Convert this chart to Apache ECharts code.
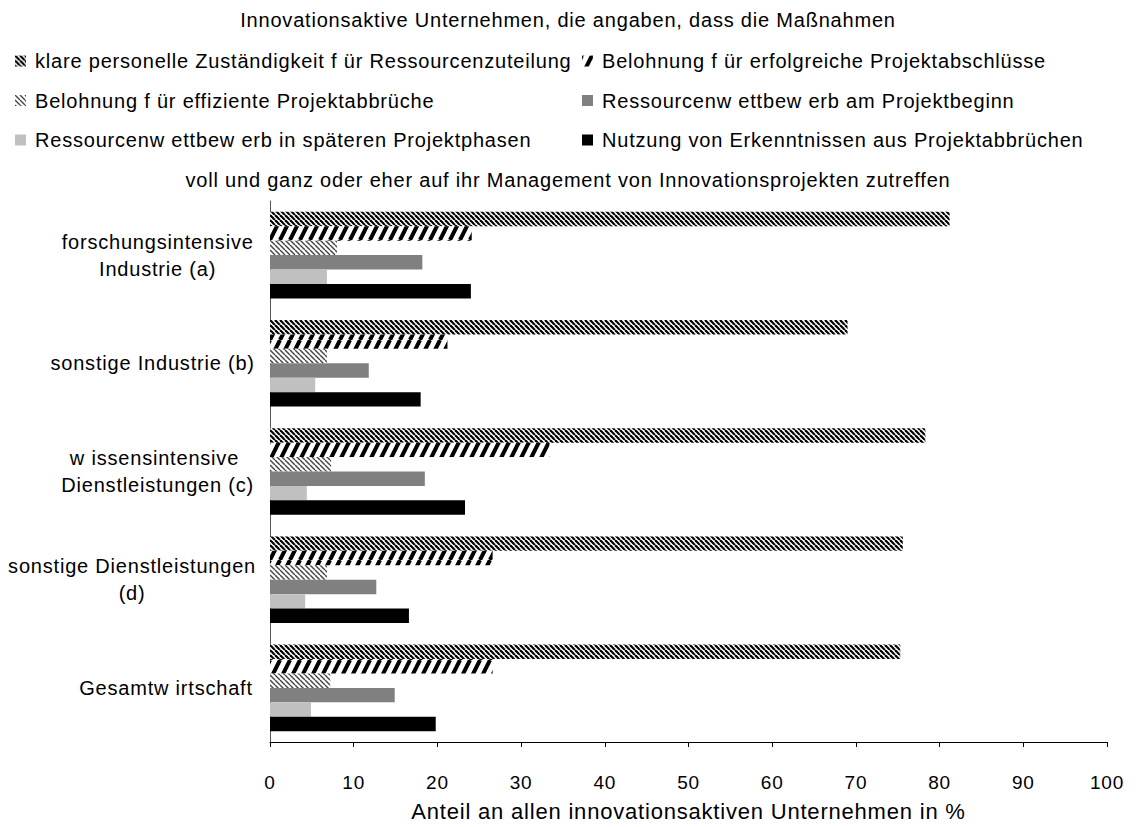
<!DOCTYPE html>
<html>
<head>
<meta charset="utf-8">
<script src="https://cdn.jsdelivr.net/npm/echarts@6/dist/echarts.min.js"></script>
<style>
  html, body { margin: 0; padding: 0; background: #fff; }
  #chart { width: 1136px; height: 827px; }
  /* etwas Sperrung wie im Original */
  #chart text { letter-spacing: 0.8px; }
</style>
</head>
<body>
<div id="chart"></div>
<script>
// Kategorien (von oben nach unten)
var categories = [
  'forschungsintensive\nIndustrie (a)',
  'sonstige Industrie (b)',
  'w issensintensive \nDienstleistungen (c)',
  'sonstige Dienstleistungen\n(d)',
  'Gesamtw irtschaft'
];

var seriesNames = [
  'klare personelle Zuständigkeit f ür Ressourcenzuteilung',
  'Belohnung f ür erfolgreiche Projektabschlüsse',
  'Belohnung f ür effiziente Projektabbrüche',
  'Ressourcenw ettbew erb am Projektbeginn',
  'Ressourcenw ettbew erb in späteren Projektphasen',
  'Nutzung von Erkenntnissen aus Projektabbrüchen'
];

// Werte in %
var klare = [81.2, 69.0, 78.3, 75.6, 75.3];
var erfolg = [24.1, 21.2, 33.4, 26.6, 26.6];
var effizient = [8.0, 6.8, 7.3, 6.8, 7.2];
var beginn = [18.2, 11.8, 18.5, 12.7, 14.9];
var spaeter = [6.8, 5.4, 4.4, 4.2, 4.9];
var nutzung = [24.0, 18.0, 23.3, 16.6, 19.8];

var titleTop = 'Innovationsaktive Unternehmen, die angaben, dass die Maßnahmen';
var titleBottom = 'voll und ganz oder eher auf ihr Management von Innovationsprojekten zutreffen';
var xName = 'Anteil an allen innovationsaktiven Unternehmen in %';

var FONT = 'Liberation Sans, Arial, sans-serif';
var FS = 20;

// Schraffur als Canvas-Muster
function stripes(w, h, dir, lw, color) {
  var c = document.createElement('canvas');
  c.width = w;
  c.height = h;
  var ctx = c.getContext('2d');
  ctx.fillStyle = '#fff';
  ctx.fillRect(0, 0, w, h);
  ctx.strokeStyle = color;
  ctx.lineWidth = lw;
  for (var k = -1; k <= 1; k++) {
    ctx.beginPath();
    if (dir === '\\') {
      ctx.moveTo(k * w, 0);
      ctx.lineTo(k * w + w, h);
    } else {
      ctx.moveTo(k * w, h);
      ctx.lineTo(k * w + w, 0);
    }
    ctx.stroke();
  }
  return { image: c, repeat: 'repeat' };
}

var fills = [
  stripes(5, 5, '\\', 2.2, '#000'),
  stripes(10, 20, '/', 4, '#000'),
  stripes(5, 5, '\\', 1.4, '#444'),
  '#808080',
  '#c0c0c0',
  '#000000'
];

var values = [klare, erfolg, effizient, beginn, spaeter, nutzung];

var series = [];
for (var i = 0; i < values.length; i++) {
  series.push({
    name: seriesNames[i],
    type: 'bar',
    data: values[i],
    barGap: '0%',
    barCategoryGap: '20%',
    itemStyle: { color: fills[i] },
    emphasis: { disabled: true }
  });
}

var chart = echarts.init(document.getElementById('chart'), null, { renderer: 'svg' });

var legendText = { fontFamily: FONT, fontSize: FS, color: '#000', lineHeight: 20, padding: [0, 0, 0, 4] };

var option = {
  animation: false,
  backgroundColor: '#fff',
  title: [
    { text: titleTop, left: 'center', top: 10, padding: 0, textStyle: { fontFamily: FONT, fontSize: FS, fontWeight: 'normal', color: '#000', lineHeight: 20 } },
    { text: titleBottom, left: 'center', top: 170, padding: 0, textStyle: { fontFamily: FONT, fontSize: FS, fontWeight: 'normal', color: '#000', lineHeight: 20 } }
  ],
  legend: [
    {
      orient: 'vertical', left: 15, top: 51, padding: 0, itemGap: 19.5,
      itemWidth: 11, itemHeight: 11, icon: 'rect',
      data: [seriesNames[0], seriesNames[2], seriesNames[4]],
      textStyle: legendText
    },
    {
      orient: 'vertical', left: 582, top: 51, padding: 0, itemGap: 19.5,
      itemWidth: 11, itemHeight: 11, icon: 'rect',
      data: [seriesNames[1], seriesNames[3], seriesNames[5]],
      textStyle: legendText
    }
  ],
  grid: { left: 270, right: 29, top: 201, bottom: 75, containLabel: false },
  xAxis: {
    type: 'value',
    min: 0,
    max: 100,
    interval: 10,
    name: xName,
    nameLocation: 'middle',
    nameGap: 58,
    nameTextStyle: { fontFamily: FONT, fontSize: 22, color: '#000' },
    axisLine: { show: true, lineStyle: { color: '#000', width: 1 } },
    axisTick: { show: true, length: 5, lineStyle: { color: '#000' } },
    axisLabel: { fontFamily: FONT, fontSize: 19, color: '#000', margin: 31 },
    splitLine: { show: false }
  },
  yAxis: {
    type: 'category',
    inverse: true,
    data: categories,
    axisLine: { show: true, lineStyle: { color: '#555', width: 1 } },
    axisTick: { show: false },
    axisLabel: {
      margin: 24,
      color: '#000',
      formatter: function (v) {
        return v.split('\n').map(function (l) { return '{c|' + l + '}'; }).join('\n');
      },
      rich: { c: { align: 'center', fontFamily: FONT, fontSize: FS, lineHeight: 27, color: '#000' } }
    }
  },
  series: series
};

chart.setOption(option);
window.addEventListener('resize', function () { chart.resize(); });
</script>
</body>
</html>
